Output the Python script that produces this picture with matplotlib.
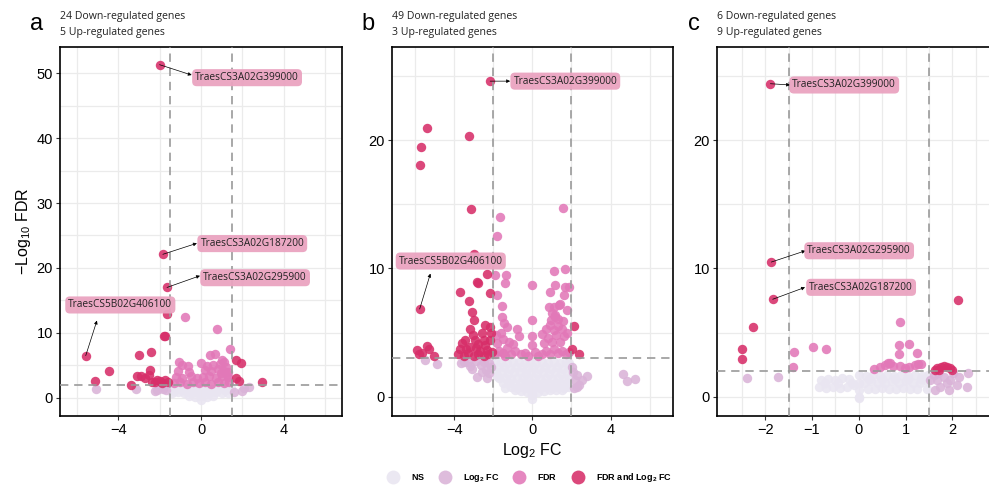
import matplotlib
matplotlib.use("Agg")
import matplotlib.pyplot as plt
from matplotlib.lines import Line2D

plt.rcParams['font.family'] = ['Liberation Sans', 'DejaVu Sans']
plt.rcParams['mathtext.fontset'] = 'custom'
plt.rcParams['mathtext.rm'] = 'Liberation Sans'
plt.rcParams['mathtext.it'] = 'Liberation Sans:italic'
plt.rcParams['mathtext.bf'] = 'Liberation Sans:bold'

# colours of the four classes
col_ns = '#E9E5F1'
col_fc = '#DAB3D8'
col_fdr = '#E278B8'
col_both = '#D72E69'

# ---------------- panel a (FC cut 1.5, FDR cut 2) ----------------
a_ns_x = [-1.45, -1.2, -0.95, -0.7, -0.45, -0.2, 0.05, 0.3, 0.55, 0.8, 1.05, 1.3, 1.45,
          -1.4, -1.1, -0.8, -0.5, -0.2, 0.1, 0.4, 0.7, 1.0, 1.3, -0.6, -0.3, 0.0, 0.3, 0.6, 0.0,
          -1.3, -0.85, -0.35, 0.2, 0.65, 1.15]
a_ns_y = [1.5, 1.4, 1.5, 1.6, 1.5, 1.4, 1.6, 1.5, 1.4, 1.5, 1.6, 1.4, 1.5,
          0.8, 0.9, 0.7, 0.8, 0.9, 0.8, 0.7, 0.9, 0.8, 0.8, 0.3, 0.2, 0.3, 0.2, 0.3, -0.4,
          1.1, 1.2, 1.1, 1.2, 1.1, 1.2]
a_fc_x = [-5.08, -3.13, -2.2, -2.13, -1.82, -1.68, 1.58, 1.98, 2.06, 2.3]
a_fc_y = [1.3, 1.34, 1.0, 1.18, 1.4, 1.18, 0.92, 1.0, 1.45, 1.6]
a_fdr_x = [-1.3, -1.0, -0.7, -0.4, -0.1, 0.2, 0.5, 0.8, 1.1, 1.35,
           -1.2, -0.9, -0.5, -0.2, 0.1, 0.4, 0.7, 1.0, 1.3,
           -1.1, -0.6, 0.2, 0.5, 0.8, 1.1, 1.3,
           -0.9, 0.3, 0.6, 0.9, 1.2,
           -1.08, 0.01, 0.45, 0.69, 1.01, 1.1, -0.76, 0.77, 1.42, -0.65, 0.95, 1.25]
a_fdr_y = [2.3, 2.4, 2.2, 2.5, 2.3, 2.4, 2.2, 2.5, 2.3, 2.4,
           3.2, 3.1, 3.3, 3.0, 3.2, 3.4, 3.1, 3.3, 3.2,
           4.2, 4.0, 4.3, 4.1, 4.4, 4.2, 4.0,
           5.0, 4.9, 5.1, 5.2, 4.8,
           5.5, 5.4, 6.6, 6.8, 5.9, 5.5, 12.4, 10.6, 7.5, 4.9, 3.9, 3.6]
a_both_x = [-2.0, -1.84, -1.64, -5.56, -1.64, -1.8, -1.72, -3.0, -2.4, -4.46, -5.1, -3.38,
            -2.45, -2.69, -2.53, -2.13, -1.97, -1.72, -2.2, -3.1, -2.9, -1.9, -2.35, -1.6,
            1.71, 1.95, 1.69, 1.82, 2.93]
a_both_y = [51.3, 22.1, 17.0, 6.5, 12.9, 9.5, 9.5, 6.6, 7.0, 4.2, 2.6, 2.0,
            4.3, 3.1, 3.5, 2.7, 2.6, 2.8, 2.5, 3.3, 3.4, 2.3, 2.4, 2.5,
            5.9, 5.4, 3.1, 2.6, 2.4]

# ---------------- panel b (FC cut 2, FDR cut 3) ----------------
b_ns_x = [-1.9, -1.6, -1.3, -1.0, -0.7, -0.4, -0.1, 0.2, 0.5, 0.8, 1.1, 1.4, 1.7, 1.9,
          -1.75, -1.45, -1.15, -0.85, -0.55, -0.25, 0.05, 0.35, 0.65, 0.95, 1.25, 1.55, 1.85,
          -1.85, -1.55, -1.25, -0.95, -0.65, -0.35, -0.05, 0.25, 0.55, 0.85, 1.15, 1.45, 1.75,
          -1.7, -1.4, -1.1, -0.8, -0.5, -0.2, 0.1, 0.4, 0.7, 1.0, 1.3, 1.6, 1.9,
          -1.8, -1.5, -1.2, -0.9, -0.6, -0.3, 0.0, 0.3, 0.6, 0.9, 1.2, 1.5, 1.8,
          -1.4, -1.1, -0.8, -0.5, -0.2, 0.1, 0.4, 0.7, 1.0, 1.3, 1.6, 1.9,
          -0.9, -0.6, -0.3, 0.0, 0.3, 0.6, 0.9, 1.2, 1.5, 0.0, 0.0]
b_ns_y = [2.7, 2.7, 2.6, 2.7, 2.7, 2.6, 2.7, 2.6, 2.7, 2.6, 2.7, 2.6, 2.7, 2.6,
          2.3, 2.3, 2.2, 2.3, 2.3, 2.2, 2.3, 2.2, 2.3, 2.2, 2.3, 2.2, 2.3,
          1.9, 1.9, 1.8, 1.9, 1.9, 1.8, 1.9, 1.8, 1.9, 1.8, 1.9, 1.8, 1.9,
          1.5, 1.5, 1.4, 1.5, 1.5, 1.4, 1.5, 1.4, 1.5, 1.4, 1.5, 1.4, 1.5,
          1.6, 1.1, 1.1, 1.0, 1.1, 1.0, 1.1, 1.0, 1.1, 1.0, 1.1, 1.0, 1.1,
          0.7, 0.8, 0.7, 0.8, 0.7, 0.8, 0.7, 0.8, 0.7, 0.8, 0.7, 0.8,
          0.5, 0.45, 0.4, 0.4, 0.4, 0.45, 0.5, 0.5, 0.55, 0.1, -0.15]
b_fc_x = [-5.5, -4.86, -3.67, -3.5, -3.28, -3.08, -2.82, -2.65, -2.48, -2.4, -2.22, -2.22,
          -2.1, -2.6, -2.9, -3.2, -2.3, 2.03, 2.2, 2.11, 2.28, 2.28, 2.37, 2.54, 2.79, 2.1,
          4.64, 4.82, 5.24]
b_fc_y = [2.85, 2.52, 2.6, 2.73, 2.73, 2.13, 1.51, 2.47, 2.73, 2.08, 1.82, 2.6,
          2.3, 1.9, 2.8, 2.4, 1.5, 2.34, 1.3, 0.65, 1.69, 0.78, 0.91, 1.3, 1.61, 1.9,
          1.77, 1.22, 1.4]
b_fdr_x = [-1.65, -1.82, 1.55, -1.34, -1.41, -1.89, -1.8, -1.55, -1.58, -1.46, -1.29, -0.78,
           -0.71, -0.02, 0.0, 0.0, 0.0, 1.09, 1.65, 1.17, 0.92, 0.84, 1.09, 1.14, 0.97, 1.35,
           1.6, 1.68, 1.87, 1.79, 1.16, 1.41,
           -1.9, -1.7, -1.5, -1.3, -1.1, -0.9, -0.6, -1.8, -1.5, -1.2, -1.6, -1.0, -0.4, -0.2,
           -1.85, -1.4,
           0.5, 0.7, 0.9, 1.1, 1.3, 1.5, 1.7, 1.85, 0.6, 0.8, 1.0, 1.2, 1.4, 1.6, 0.7, 0.9,
           1.1, 1.3, 1.5, 1.75, 0.5, 1.0, 1.3, 1.55, 0.3, 0.15]
b_fdr_y = [14.0, 12.5, 14.7, 9.5, 8.84, 9.5, 7.9, 7.07, 6.24, 5.72, 5.46, 5.25,
           4.73, 8.7, 6.0, 4.7, 4.0, 9.8, 9.93, 8.7, 8.2, 6.97, 6.97, 6.37, 6.0, 7.15,
           7.93, 8.57, 8.57, 6.76, 6.24, 7.2,
           3.3, 3.6, 3.4, 3.8, 3.3, 3.6, 3.3, 4.2, 4.5, 4.3, 5.0, 4.1, 3.4, 3.2,
           4.8, 3.2,
           3.3, 3.6, 3.3, 3.7, 3.4, 3.6, 3.3, 3.5, 4.2, 4.6, 4.3, 4.8, 4.3, 4.7, 5.3, 5.6,
           5.2, 5.5, 5.3, 5.0, 4.9, 6.5, 6.1, 5.9, 3.2, 3.5]
b_both_x = [-2.16, -5.39, -5.69, -5.73, -3.27, -3.14, -3.01, -5.77, -3.69, -2.84, -2.76, -2.3,
            -2.16, -3.27, -3.09, -2.97, -3.2, -2.41, -2.19, -2.58, -3.6, -3.43, -2.92, -2.76,
            -3.18, -2.41, -3.69, -2.67, -2.33, -2.16, -5.9, -5.8, -5.39, -5.3, -5.05, -5.64,
            -3.8, -3.5, -3.3, -3.0, -2.8, -2.5, -2.25, -2.05, -3.05, -2.9, -2.5, -2.1, -3.4,
            2.14, 2.04, 2.4]
b_both_y = [24.6, 20.97, 19.5, 18.1, 20.3, 14.6, 11.1, 6.84, 8.2, 8.96, 8.9, 9.56,
            8.06, 7.46, 6.6, 6.0, 5.3, 5.6, 5.4, 4.94, 4.16, 4.4, 4.4, 4.1,
            3.85, 4.03, 3.7, 3.59, 3.64, 4.4, 3.64, 3.33, 3.95, 3.72, 3.17, 3.38,
            3.3, 3.2, 3.4, 3.2, 3.3, 3.2, 3.3, 3.5, 4.8, 3.8, 4.4, 5.0, 3.7,
            5.54, 3.72, 3.3]

# ---------------- panel c (FC cut 1.5, FDR cut 2) ----------------
c_ns_x = [-0.8, -0.65, -0.5, -0.35, -0.2, -0.85, -0.7, -0.55, -0.4, -0.25, -0.1,
          -0.72, -0.45, -0.15,
          0.0, 0.0, 0.0, 0.0, 0.0,
          0.15, 0.3, 0.45, 0.6, 0.75, 0.9, 1.05, 1.2, 1.35, 1.48,
          0.1, 0.25, 0.4, 0.55, 0.7, 0.85, 1.0, 1.15, 1.3, 1.45,
          0.2, 0.35, 0.5, 0.65, 0.8, 0.95, 1.1, 1.25, 1.45,
          0.22, 0.5, 0.78, 1.05, 1.32]
c_ns_y = [1.3, 1.4, 1.3, 1.5, 1.4, 0.8, 0.7, 0.8, 0.7, 0.8, 0.9,
          1.05, 1.05, 1.1,
          1.7, 1.1, 0.5, 0.0, -0.1,
          1.6, 1.7, 1.6, 1.7, 1.6, 1.7, 1.6, 1.7, 1.6, 1.7,
          1.1, 1.2, 1.1, 1.1, 1.2, 1.1, 1.2, 1.1, 1.1, 1.2,
          0.6, 0.6, 0.7, 0.6, 0.6, 0.7, 0.6, 0.6, 0.6,
          1.4, 1.4, 1.4, 1.4, 1.4]
c_fc_x = [-2.38, -1.72, 2.34, 2.31, 2.09, 1.92, 1.74, 1.63, 1.95, 2.13, 1.81, 1.67, 1.6,
          1.88, 2.02, 1.7, 1.52]
c_fc_y = [1.43, 1.51, 1.87, 0.78, 0.91, 0.52, 0.78, 0.52, 1.3, 1.56, 1.56, 1.3, 1.69,
          1.04, 1.82, 1.82, 1.3]
c_fdr_x = [-1.38, -1.4, -0.99, -0.7, 0.87, 0.85, 1.08, 0.85, 1.25, 1.27, 1.32, 1.08, 0.88,
           0.67, 0.56, 0.46, 0.33, 0.74, 0.99, 0.63, 1.2]
c_fdr_y = [3.51, 2.29, 3.9, 3.72, 5.8, 4.03, 4.1, 3.33, 3.38, 2.52, 2.55, 2.29, 2.39,
           2.65, 2.47, 2.29, 2.13, 2.39, 2.21, 2.6, 2.45]
c_both_x = [-1.89, -1.87, -1.84, -2.26, -2.49, -2.49,
            2.11, 1.62, 1.68, 1.75, 1.82, 1.88, 1.95, 2.0, 1.72]
c_both_y = [24.4, 10.5, 7.6, 5.43, 3.72, 2.94,
            7.54, 2.1, 2.25, 2.35, 2.4, 2.35, 2.25, 2.05, 2.05]

# labelled genes: (point x, point y, arrow tip x, arrow tip y, box left x, box y, name)
a_labels = [(-2.0, 51.3, -0.45, 49.7, -0.28, 49.3, 'TraesCS3A02G399000'),
            (-1.84, 22.1, -0.2, 23.8, -0.03, 23.75, 'TraesCS3A02G187200'),
            (-1.64, 17.0, -0.05, 18.8, 0.11, 18.5, 'TraesCS3A02G295900'),
            (-5.56, 6.5, -5.02, 11.9, -6.4, 14.3, 'TraesCS5B02G406100')]
b_labels = [(-2.16, 24.6, -1.14, 24.6, -0.97, 24.6, 'TraesCS3A02G399000'),
            (-5.77, 6.84, -5.22, 9.6, -6.84, 10.58, 'TraesCS5B02G406100')]
c_labels = [(-1.89, 24.4, -1.47, 24.3, -1.42, 24.3, 'TraesCS3A02G399000'),
            (-1.87, 10.5, -1.14, 11.38, -1.1, 11.38, 'TraesCS3A02G295900'),
            (-1.84, 7.6, -1.15, 8.53, -1.06, 8.53, 'TraesCS3A02G187200')]

panels = [
    dict(pos=[0.0607, 0.144, 0.2851, 0.759], xlim=(-6.8, 6.8), ylim=(-2.8, 54),
         xmaj=[-4, 0, 4], xmin=[-6, -2, 2, 6], ymaj=[0, 10, 20, 30, 40, 50],
         ymin=[5, 15, 25, 35, 45], fc=1.5, fdr=2,
         data=[(a_ns_x, a_ns_y), (a_fc_x, a_fc_y), (a_fdr_x, a_fdr_y), (a_both_x, a_both_y)],
         labels=a_labels, letter='a', lx=37, sub=['24 Down-regulated genes', '5 Up-regulated genes']),
    dict(pos=[0.3961, 0.144, 0.2844, 0.759], xlim=(-7.2, 7.2), ylim=(-1.5, 27.25),
         xmaj=[-4, 0, 4], xmin=[-6, -2, 2, 6], ymaj=[0, 10, 20], ymin=[5, 15, 25],
         fc=2, fdr=3,
         data=[(b_ns_x, b_ns_y), (b_fc_x, b_fc_y), (b_fdr_x, b_fdr_y), (b_both_x, b_both_y)],
         labels=b_labels, letter='b', lx=368, sub=['49 Down-regulated genes', '3 Up-regulated genes']),
    dict(pos=[0.725, 0.144, 0.2868, 0.759], xlim=(-3.03, 3.03), ylim=(-1.5, 27.25),
         xmaj=[-2, -1, 0, 1, 2], xmin=[-2.5, -1.5, -0.5, 0.5, 1.5, 2.5], ymaj=[0, 10, 20],
         ymin=[5, 15, 25], fc=1.5, fdr=2,
         data=[(c_ns_x, c_ns_y), (c_fc_x, c_fc_y), (c_fdr_x, c_fdr_y), (c_both_x, c_both_y)],
         labels=c_labels, letter='c', lx=694, sub=['6 Down-regulated genes', '9 Up-regulated genes']),
]

colors = [col_ns, col_fc, col_fdr, col_both]

fig = plt.figure(figsize=(9.89, 4.86), dpi=100)

for p in panels:
    ax = fig.add_axes(p['pos'])
    ax.set_xlim(p['xlim'])
    ax.set_ylim(p['ylim'])
    ax.set_xticks(p['xmaj'])
    ax.set_xticks(p['xmin'], minor=True)
    ax.set_yticks(p['ymaj'])
    ax.set_yticks(p['ymin'], minor=True)
    ax.set_xticklabels([str(v).replace('-', '\u2212') for v in p['xmaj']])
    ax.grid(True, which='both', color='#EBEBEB', lw=0.9)
    ax.set_axisbelow(True)
    ax.tick_params(which='major', length=3, width=0.8, labelsize=10.5, color='#333333',
                   labelcolor='black', pad=2)
    ax.tick_params(which='minor', length=0)
    for s in ax.spines.values():
        s.set_linewidth(1.2)
        s.set_color('black')

    for (xs, ys), c in zip(p['data'], colors):
        ax.scatter(xs, ys, s=46, color=c, alpha=0.88, linewidths=0, zorder=2)

    for v in (-p['fc'], p['fc']):
        ax.axvline(v, color='#9A9A9A', lw=1.2, ls=(0, (5, 3.5)), zorder=3)
    ax.axhline(p['fdr'], color='#9A9A9A', lw=1.2, ls=(0, (5, 3.5)), zorder=3)

    for px, py, tx, ty, bx, by, name in p['labels']:
        ax.annotate('', xy=(tx, ty), xytext=(px, py), zorder=4,
                    arrowprops=dict(arrowstyle='-|>', color='black', lw=0.5,
                                    mutation_scale=5, shrinkA=0, shrinkB=0))
        ax.text(bx, by, name, family='Open Sans', fontsize=7.3, color='#222222',
                ha='left', va='center', zorder=5,
                bbox=dict(boxstyle='round,pad=0.3,rounding_size=0.45', fc='#EAA3C0',
                          ec='none', alpha=0.95))

    fig.text(p['lx'] / 989, 1 - 24 / 486, p['letter'], fontsize=17, ha='center', va='center')
    x0 = p['pos'][0]
    fig.text(x0, 1 - 17 / 486, p['sub'][0], family='Open Sans', fontsize=7.6,
             color='#222222', va='center')
    fig.text(x0, 1 - 32 / 486, p['sub'][1], family='Open Sans', fontsize=7.6,
             color='#222222', va='center')

    if p['letter'] == 'a':
        ax.set_ylabel(r'$-\mathrm{Log_{10}}$ FDR', fontsize=11.5, labelpad=3)
    if p['letter'] == 'b':
        ax.set_xlabel(r'$\mathrm{Log_2}$ FC', fontsize=11.5, labelpad=3)

handles = [Line2D([], [], marker='o', ls='none', markersize=10, color=c, alpha=0.88,
                  markeredgewidth=0) for c in colors]
names = [r'$\mathbf{NS}$', r'$\mathbf{Log_2\ FC}$', r'$\mathbf{FDR}$',
         r'$\mathbf{FDR\ and\ Log_2\ FC}$']
fig.legend(handles, names, loc='center', bbox_to_anchor=(0.535, 0.017), ncol=4,
           frameon=False, fontsize=6.5, handlelength=1.4, handletextpad=1.3,
           columnspacing=1.5, borderpad=0)

fig.savefig('out.png', dpi=100)
